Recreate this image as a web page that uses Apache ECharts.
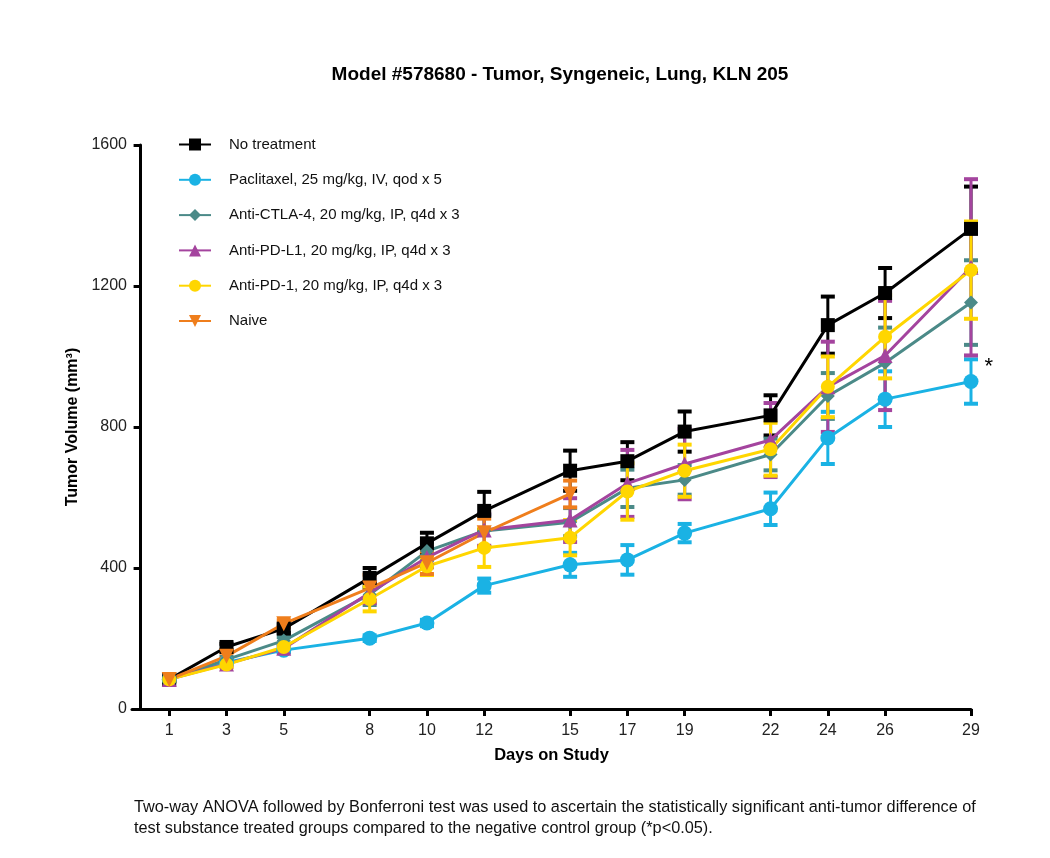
<!DOCTYPE html>
<html>
<head>
<meta charset="utf-8">
<script src="https://cdn.jsdelivr.net/npm/echarts@6/dist/echarts.min.js"></script>
<style>
    html, body { margin: 0; padding: 0; background: #fff; }
    #main { width: 1050px; height: 858px; }
</style>
</head>
<body>
<div id="main"></div>
<script>
// days on study (x ticks)
let days = [1, 3, 5, 8, 10, 12, 15, 17, 19, 22, 24, 26, 29];

// group means (mm3) and SEM
let noTreatment    = [84, 176, 228, 372, 470, 562, 676, 703, 787, 833, 1089, 1180, 1362];
let noTreatmentErr = [6, 9, 12, 28, 30, 54, 57, 54, 57, 57, 81, 71, 120];

let paclitaxel    = [84, 132, 167, 201, 244, 350, 409, 423, 499, 568, 769, 879, 929];
let paclitaxelErr = [5, 6, 7, 8, 9, 20, 34, 42, 26, 46, 74, 79, 63];
let paclitaxelSig = [29];

let antiCTLA4    = [84, 140, 194, 325, 448, 505, 530, 626, 650, 722, 888, 982, 1153];
let antiCTLA4Err = [5, 8, 10, 30, 25, 45, 40, 53, 42, 45, 65, 100, 120];

let antiPDL1    = [84, 128, 172, 330, 430, 508, 536, 640, 695, 763, 914, 1003, 1253];
let antiPDL1Err = [5, 8, 10, 30, 28, 45, 62, 95, 100, 105, 128, 155, 250];

let antiPD1    = [84, 126, 176, 312, 405, 457, 486, 617, 676, 737, 914, 1056, 1245];
let antiPD1Err = [5, 8, 10, 35, 25, 54, 50, 80, 74, 75, 86, 118, 138];

let naiveDays = [1, 3, 5, 8, 10, 12, 15];
let naive     = [84, 150, 242, 343, 415, 500, 610];
let naiveErr  = [5, 10, 10, 38, 32, 40, 38];

let groups = [
    {name: 'No treatment', x: days, y: noTreatment, err: noTreatmentErr, color: '#000000', symbol: 'rect', size: 14},
    {name: 'Paclitaxel, 25 mg/kg, IV, qod x 5', x: days, y: paclitaxel, err: paclitaxelErr, color: '#1ab2e4', symbol: 'circle', size: 15, sig: paclitaxelSig},
    {name: 'Anti-CTLA-4, 20 mg/kg, IP, q4d x 3', x: days, y: antiCTLA4, err: antiCTLA4Err, color: '#4b8a88', symbol: 'diamond', size: 14},
    {name: 'Anti-PD-L1, 20 mg/kg, IP, q4d x 3', x: days, y: antiPDL1, err: antiPDL1Err, color: '#a4449e', symbol: 'triangle', size: 15},
    {name: 'Anti-PD-1, 20 mg/kg, IP, q4d x 3', x: days, y: antiPD1, err: antiPD1Err, color: '#ffd600', symbol: 'circle', size: 14},
    {name: 'Naive', x: naiveDays, y: naive, err: naiveErr, color: '#ef7e1c', symbol: 'triangle', size: 15, rotate: 180}
];

window.addEventListener('load', function () {
    let chart = echarts.init(document.getElementById('main'));

    // vertical SEM bar with caps, mapped through the axes
    function errorBar(color) {
        return function (params, api) {
            let x = api.value(0), m = api.value(1), e = api.value(2);
            let top = api.coord([x, m + e]);
            let bot = api.coord([x, m - e]);
            let half = 7;
            let st = {stroke: color, lineWidth: 3};
            let cap = {stroke: color, lineWidth: 4};
            return {
                type: 'group',
                children: [
                    {type: 'line', shape: {x1: top[0], y1: top[1], x2: bot[0], y2: bot[1]}, style: st},
                    {type: 'line', shape: {x1: top[0] - half, y1: top[1], x2: top[0] + half, y2: top[1]}, style: cap},
                    {type: 'line', shape: {x1: bot[0] - half, y1: bot[1], x2: bot[0] + half, y2: bot[1]}, style: cap}
                ]
            };
        };
    }

    let series = [];
    groups.forEach(function (g) {
        series.push({
            name: g.name + ' SEM',
            type: 'custom',
            renderItem: errorBar(g.color),
            data: g.x.map(function (d, i) { return [d, g.y[i], g.err[i]]; }),
            silent: true
        });
        series.push({
            name: g.name,
            type: 'line',
            symbol: g.symbol,
            symbolSize: g.size,
            symbolRotate: g.rotate || 0,
            color: g.color,
            lineStyle: {width: 3, color: g.color},
            itemStyle: {color: g.color},
            data: g.x.map(function (d, i) {
                let item = {value: [d, g.y[i]]};
                if (g.sig && g.sig.indexOf(d) >= 0) {
                    item.label = {
                        show: true, formatter: '*', position: 'right',
                        offset: [1, -15], fontSize: 22, color: '#000',
                        fontFamily: 'Liberation Sans'
                    };
                }
                return item;
            }),
            animation: false
        });
    });

    let option = {
        animation: false,
        textStyle: {fontFamily: 'Liberation Sans, Arial, sans-serif'},
        title: {
            text: 'Model #578680 - Tumor, Syngeneic, Lung, KLN 205',
            left: 555, top: 60, textAlign: 'center',
            textStyle: {fontSize: 19, fontWeight: 'bold', color: '#000'}
        },
        legend: {
            data: groups.map(function (g) { return g.name; }),
            orient: 'vertical',
            left: 173, top: 132,
            itemWidth: 32, itemHeight: 15, itemGap: 20.3,
            textStyle: {fontSize: 15, color: '#111', padding: [0, 0, 0, 13]}
        },
        grid: {left: 132, right: 79, top: 145, bottom: 149, containLabel: false},
        xAxis: {
            type: 'value',
            min: -0.3, max: 29,
            name: 'Days on Study',
            nameLocation: 'middle', nameGap: 38,
            nameTextStyle: {fontSize: 16.5, fontWeight: 'bold', color: '#000'},
            splitLine: {show: false},
            axisLine: {onZero: false, lineStyle: {color: '#000', width: 3}},
            axisTick: {customValues: days, length: 7, lineStyle: {width: 3, color: '#000'}},
            axisLabel: {customValues: days, fontSize: 16, color: '#222', margin: 14}
        },
        yAxis: {
            type: 'value',
            min: 0, max: 1600, interval: 400,
            name: 'Tumor Volume (mm³)',
            nameLocation: 'middle', nameGap: 51, nameRotate: 90,
            nameTextStyle: {fontSize: 16, fontWeight: 'bold', color: '#000'},
            splitLine: {show: false},
            axisLine: {show: true, onZero: true, lineStyle: {color: '#000', width: 3}},
            axisTick: {show: true, length: 7, lineStyle: {width: 3, color: '#000'}},
            axisLabel: {
                fontSize: 16, color: '#222', margin: 5,
                formatter: function (v) { return String(v); }
            }
        },
        graphic: [{
            type: 'text',
            left: 134, top: 797,
            style: {
                text: 'Two-way ANOVA followed by Bonferroni test was used to ascertain the statistically significant anti-tumor difference of\ntest substance treated groups compared to the negative control group (*p<0.05).',
                fontSize: 16.3, lineHeight: 21, fill: '#111',
                fontFamily: 'Liberation Sans, Arial, sans-serif'
            }
        }],
        series: series
    };
    chart.setOption(option);
}, false);
</script>
</body>
</html>
